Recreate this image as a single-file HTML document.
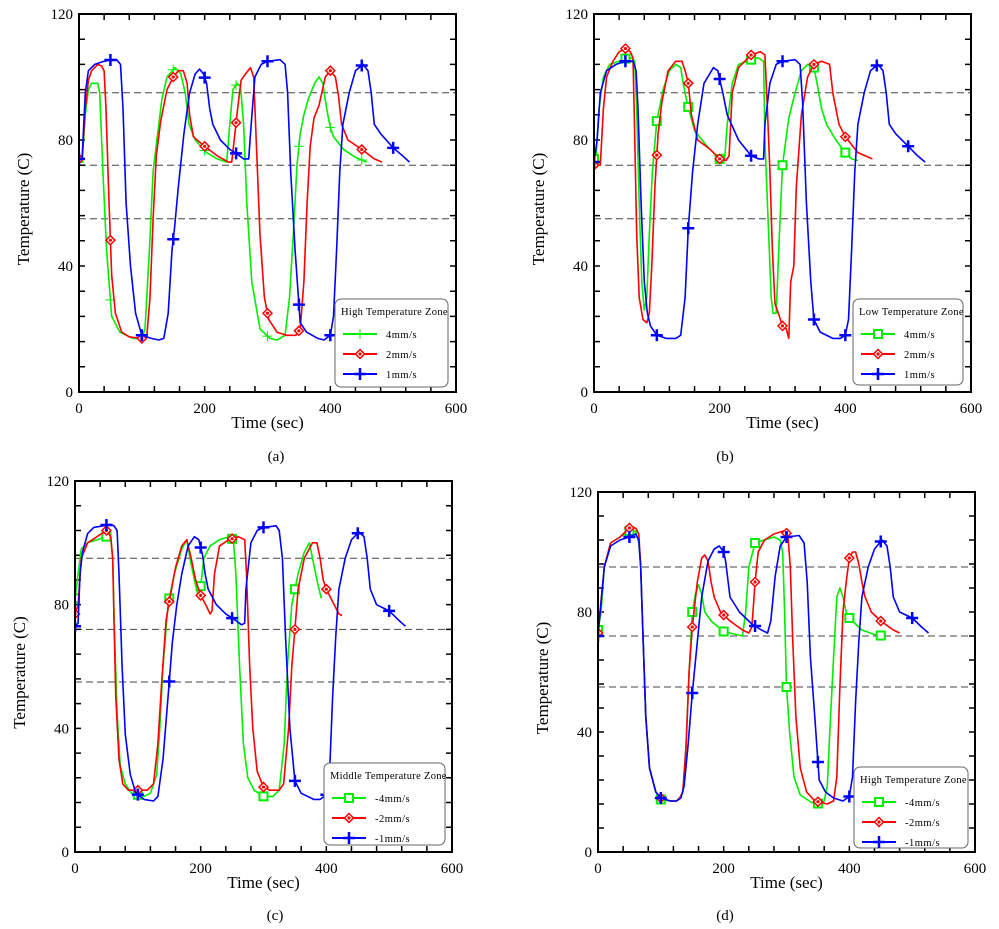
<!DOCTYPE html>
<html><head><meta charset="utf-8">
<style>
html,body{margin:0;padding:0;background:#fff;}
svg{display:block;font-family:"Liberation Serif",serif;}
</style></head>
<body>
<svg id="fig" width="999" height="929" viewBox="0 0 999 929" xmlns="http://www.w3.org/2000/svg"></svg>
<script>
// ---- data (time sec, temperature C) ----
const xTicks = [0,200,400,600];
const yTicks = [0,40,80,120];
const refLines = [95,72,55];
const panelLabels = ["(a)","(b)","(c)","(d)"];
const legendTitles = ["High Temperature Zone","Low Temperature Zone","Middle Temperature Zone","High Temperature  Zone"];
const seriesNamesAB = ["4mm/s","2mm/s","1mm/s"];
const seriesNamesCD = ["-4mm/s","-2mm/s","-1mm/s"];

const aGreen = [[0,73],[5,73],[10,88],[15,96],[20,98],[30,98],[33,95],[38,70],[44,45],[52,24],[65,19],[86,17],[100,17],[105,20],[112,45],[118,70],[124,80],[132,93],[140,100],[153,103],[162,101],[169,95],[175,85],[185,80],[203,76],[220,74],[235,73],[240,85],[245,96],[252,98],[257,97],[262,85],[267,60],[275,35],[288,20],[304,17],[315,16.5],[328,18],[335,30],[341,50],[347,72],[352,82],[358,88],[365,93],[375,98],[382,100],[388,98],[394,90],[400,84],[405,81],[421,77],[440,74.5],[458,73]];
const aRed = [[0,74],[5,74],[10,90],[15,99],[20,102],[30,104],[36,103.5],[40,102],[43,90],[47,65],[52,37],[58,25],[68,19],[80,17.5],[100,17],[108,18],[113,30],[118,55],[123,75],[130,86],[140,96],[150,100],[158,102],[166,102],[172,98],[176,88],[182,81],[200,78],[220,75],[238,73],[243,73],[247,80],[253,91],[258,99],[265,101],[273,103],[278,100],[282,80],[288,50],[295,30],[302,23],[315,19],[330,18],[345,18],[352,20],[358,35],[363,60],[368,78],[374,87],[382,91],[392,100],[400,102],[408,100],[413,94],[418,85],[428,80],[450,77],[470,74],[482,73]];
const aBlue = [[0,74],[5,74],[10,95],[15,102],[25,104],[40,105],[52,105.5],[60,105.5],[66,104],[70,90],[75,60],[82,40],[90,25],[100,18],[115,17],[127,16.5],[135,17],[142,25],[148,45],[152,52],[158,65],[167,82],[176,95],[185,101],[192,102.5],[198,101],[203,98],[208,90],[213,85],[225,80],[240,77],[252,75.5],[262,74],[270,74],[274,85],[280,100],[290,104],[300,105],[320,105.5],[328,104],[332,95],[337,70],[344,45],[352,22],[362,19],[380,17],[390,16.5],[400,18],[405,24],[410,45],[415,70],[420,85],[430,95],[440,102],[452,104],[460,102],[465,95],[470,85],[480,82],[500,77.5],[515,75],[526,73]];

const bGreen = [[0,74],[3,74],[8,90],[15,100],[25,104],[40,105],[52,106],[60,106],[65,105],[68,90],[72,60],[76,35],[80,26],[84,30],[88,50],[93,70],[100,86],[110,96],[120,102],[130,104],[138,103],[142,98],[148,92],[152,89],[160,83],[180,78],[200,74],[208,74],[212,85],[220,98],[230,104],[245,105],[255,106],[262,106],[270,105],[272,80],[278,50],[282,30],[285,25],[290,25],[295,50],[300,72],[310,87],[320,95],[330,102],[340,104],[350,103],[355,98],[362,90],[370,85],[385,80],[400,76],[410,74],[420,73.5]];
const bRed = [[0,72],[10,72],[15,90],[20,100],[30,105],[40,108],[50,109],[58,108],[62,106],[65,80],[68,50],[72,30],[78,23],[84,22],[88,25],[92,40],[97,65],[102,82],[108,92],[118,102],[130,105],[140,105],[145,102],[150,98],[155,88],[165,80],[185,77],[200,74],[210,73.5],[215,75],[220,95],[230,103],[250,107],[265,108],[272,107],[276,90],[280,70],[284,45],[288,28],[295,24],[300,21],[306,20],[310,17],[313,35],[318,40],[322,65],[330,88],[340,100],[350,104],[362,105],[375,104],[380,95],[390,85],[400,81],[420,76],[443,74]];
const bBlue = [[0,73],[5,80],[10,95],[20,102],[35,104],[50,105],[62,105],[67,102],[70,90],[75,60],[80,35],[85,25],[90,21],[100,18],[115,17],[130,17],[138,18],[145,30],[150,52],[157,70],[165,85],[175,98],[190,103],[197,102],[205,95],[212,88],[230,80],[250,75],[262,74],[270,74],[272,85],[280,98],[290,104],[300,105],[320,105.5],[328,104],[332,92],[338,60],[345,35],[350,23],[360,19],[380,17],[392,17],[400,18],[405,23],[410,45],[415,70],[420,85],[430,95],[440,102],[452,104],[460,102],[465,95],[470,85],[480,82],[500,78],[515,75],[527,73]];

const cGreen = [[0,82],[5,90],[10,98],[20,100],[35,101],[50,102],[57,101],[60,95],[63,70],[67,45],[72,28],[80,22],[90,19],[100,18.5],[110,18],[120,19],[130,25],[135,40],[140,60],[148,80],[158,90],[170,98],[178,101],[183,95],[190,88],[197,82],[200,86],[205,95],[215,99],[230,101],[245,102],[252,101],[256,90],[262,60],[268,35],[275,24],[285,20],[300,18],[315,18],[325,20],[333,35],[338,60],[345,80],[355,90],[365,97],[373,100],[378,95],[385,88],[392,82]];
const cRed = [[0,77],[5,80],[10,95],[20,100],[35,102],[50,104],[57,102],[60,95],[62,75],[65,50],[70,30],[76,22],[85,20],[100,20],[115,20],[125,22],[132,35],[138,55],[145,75],[150,81],[160,92],[170,99],[178,101],[185,95],[192,88],[200,83],[208,80],[215,77],[218,78],[222,90],[230,99],[245,101],[260,102],[270,101],[273,90],[278,60],[283,40],[290,26],[300,21],[310,20],[325,20],[332,22],[340,40],[345,60],[350,72],[355,85],[365,95],[378,100],[385,100],[390,95],[395,88],[400,85],[410,81],[420,77],[425,76.5]];
const cBlue = [[0,73],[5,74],[8,90],[12,97],[20,103],[30,105],[45,105.5],[55,106],[62,105.5],[67,104],[70,90],[75,60],[80,38],[88,25],[97,19],[110,17],[125,16.5],[132,18],[140,30],[148,50],[155,68],[162,80],[170,90],[180,99],[190,102],[197,101],[203,96],[207,90],[212,85],[225,80],[240,77],[255,75],[265,73.5],[270,74],[272,85],[280,100],[290,104],[300,105],[320,105.5],[325,104],[330,95],[335,70],[342,40],[350,23],[360,19],[380,17],[390,17],[400,18.5],[405,25],[410,50],[415,70],[420,85],[430,95],[440,101],[452,103.5],[460,102],[465,95],[470,85],[480,80],[500,78],[515,75],[526,73]];

const dGreen = [[0,74],[5,80],[10,95],[20,103],[35,105],[50,107],[60,107],[65,103],[68,95],[72,70],[76,45],[82,28],[92,20],[100,17.5],[115,17],[125,17],[130,18],[135,20],[140,35],[145,60],[150,80],[155,86],[160,89],[165,86],[170,80],[180,77],[200,73.5],[220,72.5],[230,72],[235,80],[240,95],[250,103],[265,104],[280,105],[290,104],[294,100],[297,80],[300,55],[305,40],[312,25],[322,19],[340,16.5],[355,16],[360,17],[365,22],[370,45],[375,65],[380,85],[385,88],[390,85],[395,80],[400,78],[420,74],[440,72.5],[455,72]];
const dRed = [[0,73],[10,95],[20,103],[35,105],[50,108],[60,108],[65,106],[68,95],[72,70],[76,45],[82,28],[92,20],[100,18],[115,17],[125,17],[130,18],[135,20],[140,35],[145,60],[150,75],[158,90],[165,98],[170,99],[175,97],[180,90],[185,85],[195,80],[210,77],[230,74],[240,73],[245,75],[250,90],[255,100],[265,104],[280,106],[295,107],[302,106],[306,95],[310,70],[315,45],[322,28],[332,20],[345,17],[365,16],[375,17],[380,25],[385,55],[390,80],[395,90],[400,98],[405,100],[410,100],[415,96],[420,90],[425,85],[435,80],[450,77],[470,74],[480,73]];
const dBlue = [[0,72],[10,95],[20,102],[35,104],[50,105],[60,106],[65,104],[68,95],[72,70],[76,45],[82,28],[92,20],[100,18],[115,17],[125,17],[132,18],[137,22],[143,35],[150,53],[158,70],[165,85],[175,97],[185,101],[193,102],[200,100],[203,97],[210,85],[225,80],[245,76],[260,74],[270,73],[275,77],[282,92],[290,102],[300,105],[320,105.5],[328,103],[333,90],[338,65],[345,45],[352,24],[362,20],[375,18],[390,17],[400,18.5],[405,25],[410,50],[415,70],[420,85],[430,95],[440,101],[452,104],[460,102],[465,95],[470,85],[480,80],[500,78],[515,75],[526,73]];

// ---- drawing ----
const NS = "http://www.w3.org/2000/svg";
const svg = document.getElementById("fig");
const COLORS = ["#00ee00","#ff0000","#0000ff"];
function mk(tag, attrs, parent){
  const e = document.createElementNS(NS, tag);
  for (const k in attrs) e.setAttribute(k, attrs[k]);
  (parent||svg).appendChild(e);
  return e;
}
function interp(data, t){
  if (t < data[0][0] || t > data[data.length-1][0]) return null;
  for (let i=1;i<data.length;i++){
    if (data[i][0] >= t){
      const a=data[i-1], b=data[i];
      const f = b[0]===a[0]?0:(t-a[0])/(b[0]-a[0]);
      return a[1]+f*(b[1]-a[1]);
    }
  }
  return null;
}
function marker(g, type, cx, cy, color, thin){
  let m;
  if (type==="plus"){
    const s = thin?5:6;
    m = mk("path",{d:`M${cx-s},${cy}H${cx+s}M${cx},${cy-s}V${cy+s}`,stroke:color,"stroke-width":thin?1:2.5,fill:"none"},g);
  } else if (type==="diamond"){
    m = mk("path",{d:`M${cx},${cy-4.5}L${cx+4.5},${cy}L${cx},${cy+4.5}L${cx-4.5},${cy}Z`,stroke:color,"stroke-width":1.5,fill:"#fff"},g);
    mk("circle",{cx:cx,cy:cy,r:1.6,fill:color},g);
  } else {
    m = mk("rect",{x:cx-4,y:cy-4,width:8,height:8,stroke:color,"stroke-width":2,fill:"#fff"},g);
  }
  return m;
}

function drawPanel(p, idx){
  const g = mk("g",{});
  
  
  const X = t => p.l + (t/600)*(p.r-p.l);
  const Y = v => p.b - (v/120)*(p.b-p.t);
  const clipId = "clip"+idx;
  const cp = mk("clipPath",{id:clipId},g);
  mk("rect",{x:p.l,y:p.t,width:p.r-p.l,height:p.b-p.t},cp);
  // reference dashed lines
  refLines.forEach(v=>{
    const l = mk("line",{x1:p.l,x2:p.r,y1:Y(v),y2:Y(v),stroke:"#444","stroke-width":1,"stroke-dasharray":"7,4"},g);
    
    
  });
  // ticks
  const tk = [];
  for (let t=0;t<=600;t+=40){ tk.push(`M${X(t)},${p.b}v-6M${X(t)},${p.t}v6`); }
  for (let v=0;v<=120;v+=8){ tk.push(`M${p.l},${Y(v)}h6M${p.r},${Y(v)}h-6`); }
  const ticks = mk("path",{d:tk.join(""),stroke:"#000","stroke-width":1.5,fill:"none"},g);
  
  
  xTicks.forEach(t=>{
    const tx = mk("text",{x:X(t),y:p.b+21,"text-anchor":"middle","font-size":15,fill:"#000"},g);
    tx.textContent = t;
    
    
  });
  yTicks.forEach(v=>{
    const tx = mk("text",{x:p.l-6,y:Y(v)+5,"text-anchor":"end","font-size":15,fill:"#000"},g);
    tx.textContent = v;
    
    
  });
  // series
  const types = p.plusGreen ? ["plus","diamond","plus"] : ["square","diamond","plus"];
  p.series.forEach((data,si)=>{
    const sg = mk("g",{"clip-path":`url(#${clipId})`},g);
    
    
    const d = data.map((pt,i)=>(i?"L":"M")+X(pt[0]).toFixed(1)+","+Y(pt[1]).toFixed(1)).join("");
    const line = mk("path",{d:d,stroke:COLORS[si],"stroke-width":1.6,fill:"none","stroke-linejoin":"round"},sg);
    
    
    for (let t=0;t<=600;t+=50){
      const v = interp(data,t);
      if (v===null) continue;
      const m = marker(sg, types[si], X(t), Y(v), COLORS[si], p.plusGreen && si===0);
      
      
    }
  });
  // frame
  const fr = mk("rect",{x:p.l,y:p.t,width:p.r-p.l,height:p.b-p.t,fill:"none",stroke:"#000","stroke-width":2},g);
  
  
  // axis titles
  const xt = mk("text",{x:(p.l+p.r)/2,y:p.b+36,"text-anchor":"middle","font-size":17,fill:"#000"},g);
  xt.textContent = "Time (sec)";
  
  
  const yx = p.l-50, yy = (p.t+p.b)/2 + 6;
  const yt = mk("text",{x:yx,y:yy,"text-anchor":"middle","font-size":17,fill:"#000",transform:`rotate(-90 ${yx} ${yy})`},g);
  yt.textContent = "Temperature (C)";
  
  
  const pl = mk("text",{x:p.labX,y:p.labY,"text-anchor":"middle","font-size":15,fill:"#000"},g);
  pl.textContent = panelLabels[idx];
  
  
  // legend
  const L = p.leg;
  const lg = mk("g",{},g);
  
  
  mk("rect",{x:L.x,y:L.y,width:L.w,height:L.h,rx:6,fill:"#fff",stroke:"#666","stroke-width":1},lg);
  const ttl = mk("text",{x:L.x+6,y:L.y+16,"font-size":10.5,fill:"#000","letter-spacing":"0.3"},lg);
  ttl.textContent = legendTitles[idx];
  
  
  p.names.forEach((nm,si)=>{
    const ey = L.y + 35 + si*20;
    const eg = mk("g",{},lg);
    
    
    mk("line",{x1:L.x+8,x2:L.x+42,y1:ey,y2:ey,stroke:COLORS[si],"stroke-width":2},eg);
    marker(eg, types[si], L.x+25, ey, COLORS[si], p.plusGreen && si===0);
    const et = mk("text",{x:L.x+51,y:ey+4,"font-size":10.5,fill:"#000","letter-spacing":"0.5"},eg);
    et.textContent = nm;
  });
}

const panels = [
  {l:79,r:456,t:14,b:392,labX:276,labY:461,plusGreen:true,series:[aGreen,aRed,aBlue],names:seriesNamesAB,leg:{x:335,y:299,w:113,h:88}},
  {l:594,r:971,t:14,b:392,labX:725,labY:461,plusGreen:false,series:[bGreen,bRed,bBlue],names:seriesNamesAB,leg:{x:853,y:299,w:110,h:86}},
  {l:75,r:452,t:481,b:852,labX:275,labY:920,plusGreen:false,series:[cGreen,cRed,cBlue],names:seriesNamesCD,leg:{x:324,y:763,w:121,h:82}},
  {l:598,r:975,t:492,b:852,labX:725,labY:920,plusGreen:false,series:[dGreen,dRed,dBlue],names:seriesNamesCD,leg:{x:854,y:767,w:114,h:81}}
];
panels.forEach((p,i)=>drawPanel(p,i));
</script>
</body></html>
